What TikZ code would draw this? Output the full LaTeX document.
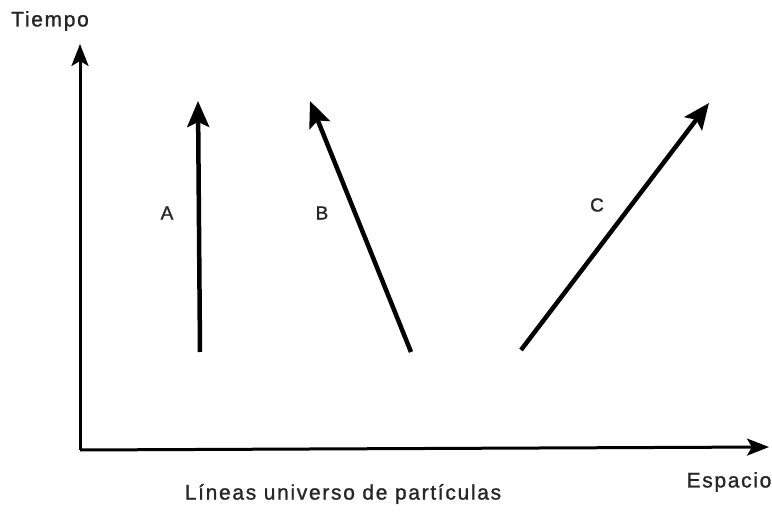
\documentclass[tikz,border=0pt]{standalone}
\usepackage{fontspec}
\setmainfont{Liberation Sans}[LetterSpace=8,FakeBold=1.2]
\usetikzlibrary{arrows.meta}
\begin{document}
\begin{tikzpicture}[x=1pt,y=-1pt,
  axis/.style={line width=3pt,-{Stealth[length=22pt,width=17pt,inset=5pt]}},
  world/.style={line width=4.5pt,-{Stealth[length=26pt,width=22pt,inset=5pt]}},
  lbl/.style={text=black!85,font=\fontsize{19}{22}\selectfont,inner sep=0pt},
  axlbl/.style={text=black!85,font=\fontsize{21}{24}\selectfont,inner sep=0pt}]
\useasboundingbox (0,0) rectangle (772,513);
\coordinate (O) at (80,450);
\coordinate (Ytop) at (80,44);
\coordinate (Xend) at (769,447);
\draw[axis] (O) -- (Ytop);
\draw[axis] (O) -- (Xend);
\node[axlbl] (tiempo) at (50,21) {Tiempo};
\node[axlbl] (espacio) at (729,482) {Espacio};
\node[axlbl] (caption) at (343,494) {Líneas universo de partículas};
\coordinate (A0) at (200,352);
\coordinate (A1) at (198,101);
\coordinate (B0) at (411,352);
\coordinate (B1) at (310,101);
\coordinate (C0) at (521,350);
\coordinate (C1) at (709,103);
\draw[world] (A0) -- (A1);
\draw[world] (B0) -- (B1);
\draw[world] (C0) -- (C1);
\node[lbl] (la) at (167,213) {A};
\node[lbl] (lb) at (322,213) {B};
\node[lbl] (lc) at (597,205) {C};
\end{tikzpicture}
\end{document}
